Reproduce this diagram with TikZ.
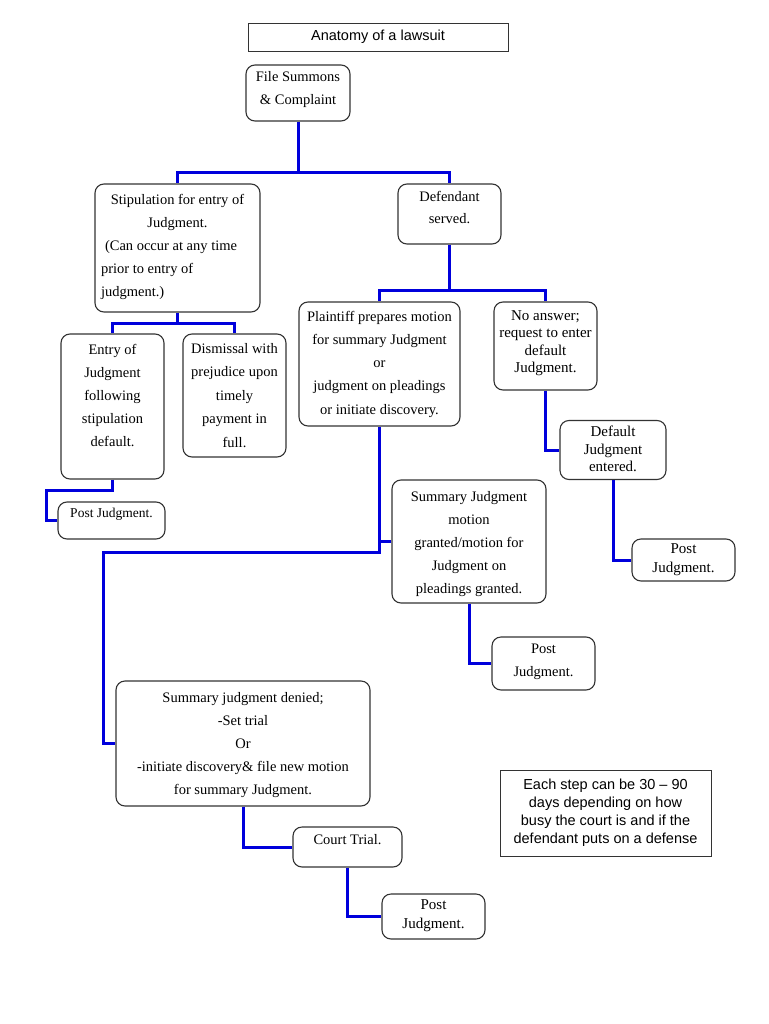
\documentclass[tikz,border=0pt]{standalone}
\usepackage{fontspec}
\setmainfont{Liberation Serif}
\newfontfamily\arialfont{Liberation Sans}
\definecolor{connblue}{RGB}{0,0,220}
\newcommand{\bx}[4]{\parbox[c][#2][t]{#1}{\centering\rule{0pt}{#3}#4}}
\tikzset{
  rbox/.style={draw=black!80, line width=1.1pt, rounded corners=9pt, inner sep=0pt, fill=white},
  sbox/.style={draw=black!80, line width=0.9pt, inner sep=0pt, fill=white},
  cn/.style={draw=connblue, line width=3pt},
  gfont/.style={font=\fontsize{14.5}{23}\selectfont},
  tfont/.style={font=\fontsize{15}{17.6}\selectfont}
}
\begin{document}
\begin{tikzpicture}[x=1pt,y=-1pt]
\useasboundingbox[fill=white] (0,0) rectangle (768,1024);

% title and note
\node[sbox, font=\arialfont\fontsize{14.5}{17}\selectfont, minimum width=260pt, minimum height=28pt] (title) at (378,37) {Anatomy of a lawsuit};
\node[sbox, font=\arialfont\fontsize{14.5}{18}\selectfont, minimum width=211pt, minimum height=86pt, align=center] (note) at (605.5,813)
  {Each step can be 30 \textendash{} 90\\days depending on how\\busy the court is and if the\\defendant puts on a defense};

% boxes
\node[rbox, gfont] (fs) at (298,93) {\bx{104pt}{56pt}{17pt}{File Summons\\\&~Complaint}};
\node[rbox, gfont] (stip) at (177.5,248) {\bx{165pt}{128pt}{20pt}{Stipulation for entry of\\Judgment.\par\raggedright\leftskip=6pt\hspace*{4pt}(Can occur at any time\\prior to entry of\\judgment.)}};
\node[rbox, font=\fontsize{14.5}{22}\selectfont] (def) at (449.5,214) {\bx{103pt}{60pt}{18pt}{Defendant\\served.}};
\node[rbox, font=\fontsize{14.5}{23.3}\selectfont] (pl) at (379.5,364) {\bx{161pt}{124pt}{19pt}{Plaintiff prepares motion\\for summary Judgment\\or\\judgment on pleadings\\or initiate discovery.}};
\node[rbox, tfont] (na) at (545.5,346) {\bx{103pt}{88pt}{18pt}{No answer;\\request to enter\\default\\Judgment.}};
\node[rbox, gfont] (ent) at (112.5,406.5) {\bx{103pt}{145pt}{20pt}{Entry of\\Judgment\\following\\stipulation\\default.}};
\node[rbox, font=\fontsize{14.5}{23.5}\selectfont] (dis) at (234.5,395.5) {\bx{103pt}{123pt}{19pt}{Dismissal with\\prejudice upon\\timely\\payment in\\full.}};
\node[rbox, font=\fontsize{13.5}{17}\selectfont] (pjl) at (111.5,520.5) {\bx{107pt}{37pt}{15pt}{Post Judgment.}};
\node[rbox, gfont] (sj) at (469,541.5) {\bx{154pt}{123pt}{21pt}{Summary Judgment\\motion\\granted/motion for\\Judgment on\\pleadings granted.}};
\node[rbox, font=\fontsize{15}{17.5}\selectfont] (dj) at (613,450) {\bx{106pt}{59pt}{16pt}{Default\\Judgment\\entered.}};
\node[rbox, font=\fontsize{15}{19}\selectfont] (pjr) at (683.5,560) {\bx{103pt}{42pt}{14pt}{Post\\Judgment.}};
\node[rbox, gfont] (pjm) at (543.5,663.5) {\bx{103pt}{53pt}{16pt}{Post\\Judgment.}};
\node[rbox, gfont] (sjd) at (243,743.5) {\bx{254pt}{125pt}{21pt}{Summary judgment denied;\\-Set trial\\Or\\-initiate discovery\&~file new motion\\for summary Judgment.}};
\node[rbox, gfont] (ct) at (347.5,847) {\bx{109pt}{40pt}{17pt}{Court Trial.}};
\node[rbox, font=\fontsize{15}{19}\selectfont] (pjb) at (433.5,916.5) {\bx{103pt}{45pt}{15pt}{Post\\Judgment.}};

% connectors
\path (fs.south) ++(0,51) coordinate (j1);
\draw[cn] (fs.south) -- (j1) -| (stip.north);
\draw[cn] (j1) -| (def.north);
\path (def.south) ++(0,46) coordinate (j2);
\draw[cn] (def.south) -- (j2) -| (pl.north);
\draw[cn] (j2) -| (na.north);
\path (stip.south) ++(0,11) coordinate (j3);
\draw[cn] (stip.south) -- (j3) -| (ent.north);
\draw[cn] (j3) -| (dis.north);
\draw[cn] (ent.south) -- ++(0,11) -| ([xshift=-11pt]pjl.west) -- (pjl.west);
\draw[cn] (pl.south) -- ++(0,126) -| ([xshift=-12pt]sjd.west) -- (sjd.west);
\draw[cn] (sj.west) -- (sj.west -| pl.south);
\draw[cn] (na.south) |- (dj.west);
\draw[cn] (dj.south) |- (pjr.west);
\draw[cn] (sj.south) |- (pjm.west);
\draw[cn] (sjd.south) |- (ct.west);
\draw[cn] (ct.south) |- (pjb.west);
\end{tikzpicture}
\end{document}
